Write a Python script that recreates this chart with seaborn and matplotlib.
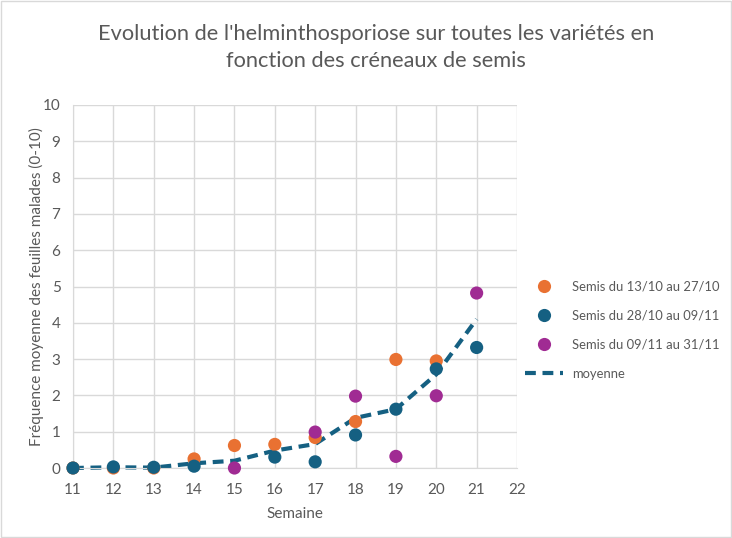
import pandas as pd
import numpy as np
import seaborn as sns
import matplotlib.pyplot as plt

# semaines observées
semaines = [11, 12, 13, 14, 15, 16, 17, 18, 19, 20, 21]

semis_1 = [0, 0, 0, 0.25, 0.62, 0.65, 0.84, 1.28, 2.99, 2.95, np.nan]
semis_2 = [0, 0.03, 0.02, 0.05, np.nan, 0.3, 0.17, 0.91, 1.62, 2.73, 3.32]
semis_3 = [np.nan, np.nan, np.nan, np.nan, 0, np.nan, 0.99, 1.98, 0.32, 1.99, 4.82]
moyenne = [0, 0.02, 0.01, 0.13, 0.2, 0.48, 0.66, 1.38, 1.62, 2.58, 4.1]

labels = ["Semis du 13/10 au 27/10", "Semis du 28/10 au 09/11", "Semis du 09/11 au 31/11"]
colors = ["#E97132", "#156082", "#A02B93"]

df = pd.DataFrame({"Semaine": semaines * 3,
                   "val": semis_1 + semis_2 + semis_3,
                   "serie": [labels[0]] * 11 + [labels[1]] * 11 + [labels[2]] * 11}).dropna()

sns.set_style("white")
plt.rcParams['font.family'] = ['Lato', 'DejaVu Sans']
gray = "#595959"

fig = plt.figure(figsize=(7.32, 5.38), dpi=100)
ax = fig.add_axes([73 / 732, 1 - 468 / 538, 444 / 732, 363 / 538])

ax.plot(semaines, moyenne, color="#156082", lw=3, ls=(0, (2.6, 1.6)), label="moyenne",
        zorder=2, clip_on=False)
sns.scatterplot(data=df, x="Semaine", y="val", hue="serie", palette=colors,
                s=90, edgecolor="none", ax=ax, zorder=3, legend=True, clip_on=False)

ax.set_xlim(11, 22)
ax.set_ylim(0, 10)
ax.set_xticks(range(11, 23))
ax.set_yticks(range(0, 11))
ax.grid(True, color="#d9d9d9", lw=1)
ax.set_axisbelow(True)
for s in ["top", "right"]:
    ax.spines[s].set_visible(False)
for s in ["left", "bottom"]:
    ax.spines[s].set_color("#d9d9d9")
ax.tick_params(colors=gray, labelsize=11, length=0)
ax.tick_params(axis="x", pad=11)
ax.tick_params(axis="y", pad=9)
ax.set_xlabel("Semaine", color=gray, fontsize=11, labelpad=7)
ax.set_ylabel("Fréquence moyenne des feuilles malades (0-10)", color=gray, fontsize=11, labelpad=-1)

handles, labs = ax.get_legend_handles_labels()
order = [labs.index(l) for l in labels] + [labs.index("moyenne")]
leg = ax.legend([handles[i] for i in order], [labs[i] for i in order],
                loc="center left", bbox_to_anchor=(1.0, 0.38), frameon=False,
                borderaxespad=0.2, fontsize=9.4, labelcolor=gray, handlelength=2.9,
                handletextpad=0.7, labelspacing=1.3)

fig.suptitle("Evolution de l'helminthosporiose sur toutes les variétés en\nfonction des créneaux de semis",
             color=gray, fontsize=15.7, x=0.514, y=0.955, linespacing=1.45)

fig.patches.append(plt.Rectangle((0.002, 0.002), 0.996, 0.996, transform=fig.transFigure,
                                 fill=False, edgecolor="#d9d9d9", lw=1))
fig.savefig("out.png", dpi=100)
